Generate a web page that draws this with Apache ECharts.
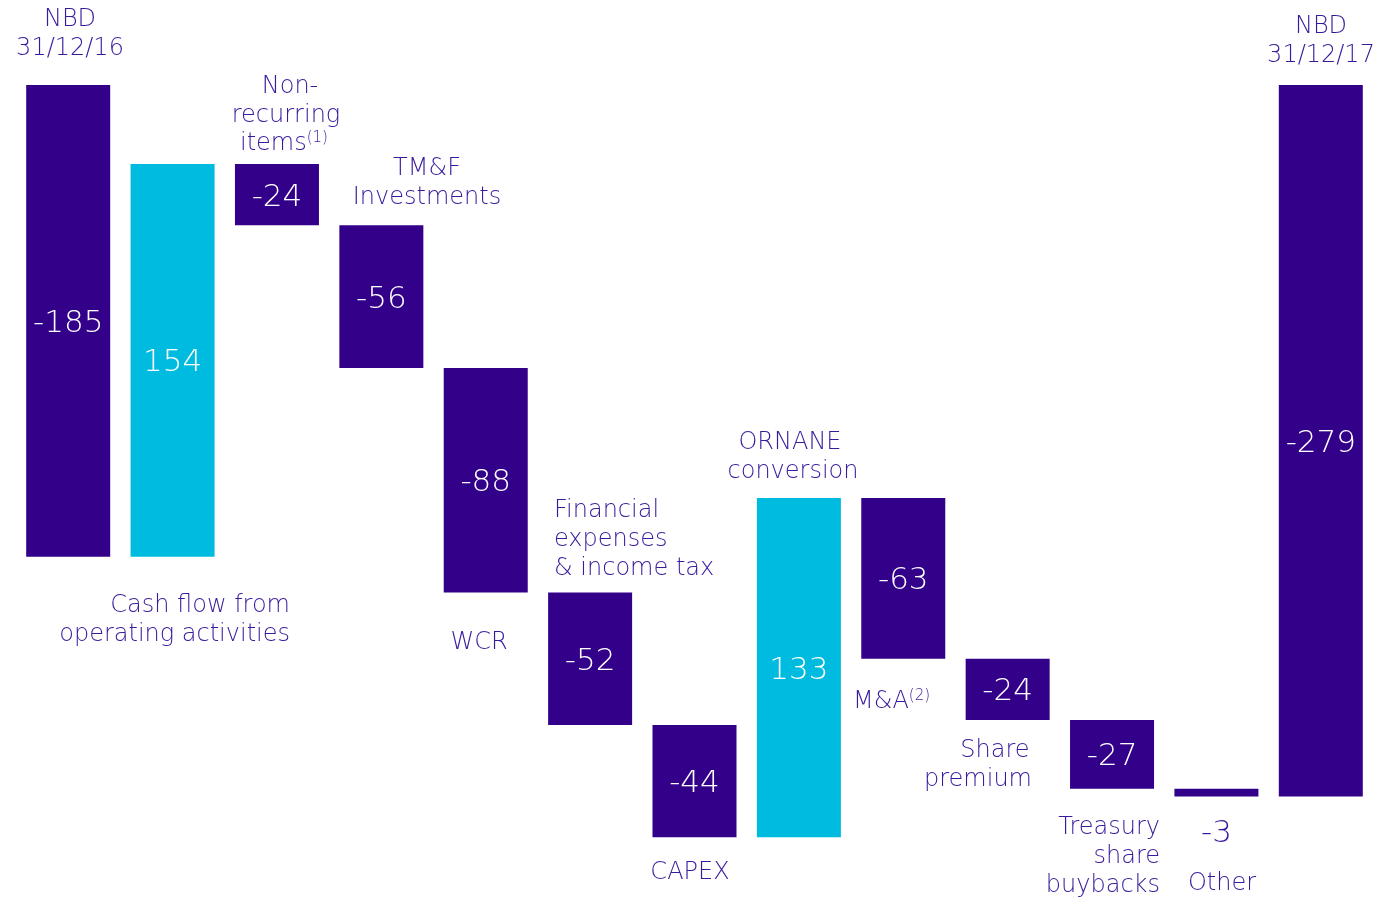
<!DOCTYPE html>
<html>
<head>
<meta charset="utf-8">
<script src="https://cdn.jsdelivr.net/npm/echarts@6/dist/echarts.min.js"></script>
<style>
  html, body { margin: 0; padding: 0; background: #ffffff; }
  #chart { width: 1379px; height: 897px; }
</style>
</head>
<body>
<div id="chart"></div>
<script>
// data
var categories = ['NBD 31/12/16', 'Cash flow from operating activities', 'Non-recurring items', 'TM&F Investments', 'WCR',
  'Financial expenses & income tax', 'CAPEX', 'ORNANE conversion', 'M&A', 'Share premium',
  'Treasury share buybacks', 'Other', 'NBD 31/12/17'];
var changes = [-185, 154, -24, -56, -88, -52, -44, 133, -63, -24, -27, -3, -279];
var isTotal = [true, false, false, false, false, false, false, false, false, false, false, false, true];
var valueLabels = ['-185', '154', '-24', '-56', '-88', '-52', '-44', '133', '-63', '-24', '-27', '-3', '-279'];

var dark = '#33008a';
var cyan = '#00bbe0';
var textColor = '#3a1a9c';
var fontFam = '"DejaVu Sans", sans-serif';

// build waterfall: invisible base + visible part (both negative so they stack)
var baseData = [];
var barData = [];
var running = 0;
for (var i = 0; i < changes.length; i++) {
  var startV, endV;
  if (isTotal[i]) {
    startV = 0; endV = changes[i];
  } else {
    startV = running; endV = running + changes[i];
  }
  running = endV;
  var hi = Math.max(startV, endV);
  var lo = Math.min(startV, endV);
  baseData.push(hi);
  var item = {
    value: lo - hi,
    itemStyle: { color: changes[i] > 0 && !isTotal[i] ? cyan : dark }
  };
  if (Math.abs(changes[i]) < 10) {
    item.label = { position: 'bottom', color: textColor, distance: 19 };
  }
  barData.push(item);
}

var myChart = echarts.init(document.getElementById('chart'));

function txt(x, y, text, align) {
  return {
    type: 'text',
    style: {
      text: text,
      x: x, y: y + 2,
      fill: textColor,
      font: '200 24px ' + fontFam,
      align: align || 'center',
      verticalAlign: 'middle'
    }
  };
}

function supTxt(x, y, main, sup) {
  return {
    type: 'text',
    style: {
      x: x, y: y + 2, verticalAlign: 'middle', align: 'left',
      text: '{a|' + main + '}{s|' + sup + '}',
      rich: {
        a: { fill: textColor, font: '200 24px ' + fontFam },
        s: { fill: textColor, font: '200 15px ' + fontFam, verticalAlign: 'top', padding: [0, 0, 12, 0] }
      }
    }
  };
}

var option = {
  animation: false,
  grid: { left: 16, right: 6, top: 85, bottom: 47, containLabel: false },
  xAxis: {
    type: 'category',
    data: categories,
    show: false
  },
  yAxis: {
    type: 'value',
    min: -300,
    max: 0,
    show: false,
    splitLine: { show: false }
  },
  series: [
    {
      type: 'bar',
      stack: 'wf',
      data: baseData,
      barWidth: 84,
      itemStyle: { color: 'transparent' },
      silent: true
    },
    {
      type: 'bar',
      stack: 'wf',
      data: barData,
      barWidth: 84,
      label: {
        show: true,
        position: 'inside',
        offset: [0, 3],
        color: '#ffffff',
        fontFamily: fontFam,
        fontWeight: 200,
        fontSize: 31,
        formatter: function (p) { return valueLabels[p.dataIndex]; }
      }
    }
  ],
  graphic: [
    txt(70, 18, 'NBD'),
    txt(70, 47, '31/12/16'),
    txt(290, 85, 'Non-'),
    txt(286, 114, 'recurring'),
    supTxt(240, 142, 'items', '(1)'),
    txt(427, 167, 'TM&F'),
    txt(427, 196, 'Investments'),
    txt(290, 604, 'Cash flow from', 'right'),
    txt(290, 633, 'operating activities', 'right'),
    txt(479, 641, 'WCR'),
    txt(554, 509, 'Financial', 'left'),
    txt(554, 538, 'expenses', 'left'),
    txt(554, 567, '& income tax', 'left'),
    txt(690, 871, 'CAPEX'),
    txt(790, 441, 'ORNANE'),
    txt(793, 470, 'conversion'),
    supTxt(853, 700, 'M&A', '(2)'),
    txt(995, 749, 'Share'),
    txt(978, 778, 'premium'),
    txt(1160, 826, 'Treasury', 'right'),
    txt(1160, 855, 'share', 'right'),
    txt(1160, 884, 'buybacks', 'right'),
    txt(1222, 882, 'Other'),
    txt(1321, 25, 'NBD'),
    txt(1321, 54, '31/12/17')
  ]
};

myChart.setOption(option);
</script>
</body>
</html>
